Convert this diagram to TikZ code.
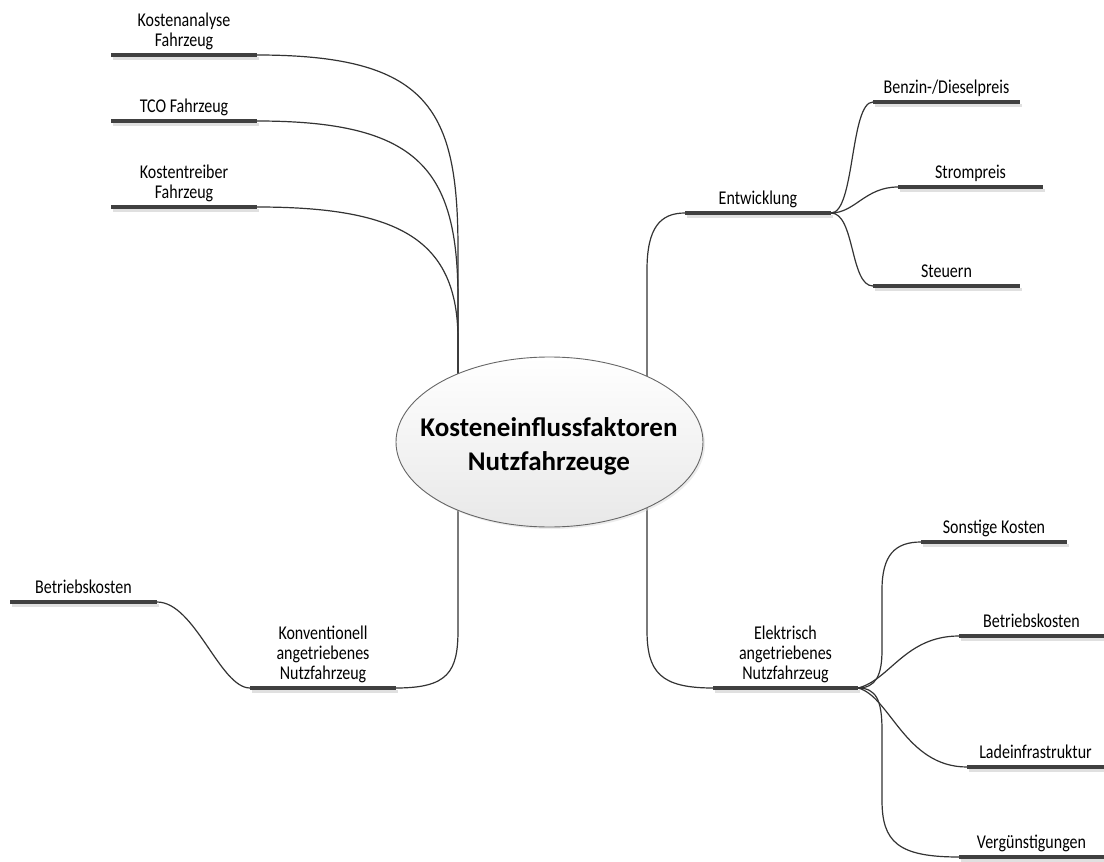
\documentclass[tikz,border=0pt]{standalone}
\usepackage{fontspec}
\usepackage{graphicx}
\setmainfont{Carlito}
\usetikzlibrary{shadows,shapes.geometric}

\tikzset{
  bar/.style={line width=4pt, draw=black!75},
  barshadow/.style={line width=3pt, draw=black!12},
  link/.style={line width=1.2pt, draw=black!80},
  topictext/.style={font=\fontsize{16}{20}\selectfont, align=center, inner sep=0pt,
                    anchor=south, text depth=4pt},
  hub/.style={ellipse, minimum width=307pt, minimum height=170pt, inner sep=0pt,
              draw=black!60, line width=0.9pt,
              top color=white, bottom color=black!9,
              drop shadow={shadow xshift=2pt, shadow yshift=-2pt, fill=black!15}},
  hubtext/.style={font=\fontsize{27}{34}\selectfont\bfseries, align=center, inner sep=0pt}
}

% vertically stretched label line
\newcommand{\tl}[1]{\scalebox{1}[1.22]{#1}}

% topic: name, left x, right x, bar y, label
\newcommand{\mmtopic}[5]{%
  \draw[barshadow] (#2+1.5,#4+3) -- (#3+1.5,#4+3);
  \coordinate (#1-w) at (#2,#4);
  \coordinate (#1-e) at (#3,#4);
  \node[topictext] (#1) at ({(#2+#3)/2},#4-4) {#5};
}

\begin{document}
\begin{tikzpicture}[x=1pt,y=-1pt]
\useasboundingbox (0,0) rectangle (1104,862);

% attachment points inside the central ellipse
\coordinate (hubTL) at (458,420);
\coordinate (hubTR) at (647,420);
\coordinate (hubBL) at (458,460);
\coordinate (hubBR) at (647,460);

% topics
\mmtopic{ka}{111}{257}{55}{\tl{Kostenanalyse}\\\tl{Fahrzeug}}
\mmtopic{tco}{111}{257}{121}{\tl{TCO Fahrzeug}}
\mmtopic{kt}{111}{257}{207}{\tl{Kostentreiber}\\\tl{Fahrzeug}}
\mmtopic{ent}{685}{831}{213}{\tl{Entwicklung}}
\mmtopic{bd}{873}{1020}{102}{\tl{Benzin-/Dieselpreis}}
\mmtopic{sp}{898}{1043}{187}{\tl{Strompreis}}
\mmtopic{st}{873}{1020}{286}{\tl{Steuern}}
\mmtopic{bkl}{10}{157}{602}{\tl{Betriebskosten}}
\mmtopic{kon}{250}{396}{688}{\tl{Konventionell}\\\tl{angetriebenes}\\\tl{Nutzfahrzeug}}
\mmtopic{ele}{713}{858}{688}{\tl{Elektrisch}\\\tl{angetriebenes}\\\tl{Nutzfahrzeug}}
\mmtopic{sk}{921}{1067}{542}{\tl{Sonstige Kosten}}
\mmtopic{bkr}{959}{1104}{636}{\tl{Betriebskosten}}
\mmtopic{lad}{967}{1104}{767}{\tl{Ladeinfrastruktur}}
\mmtopic{ver}{959}{1104}{857}{\tl{Vergünstigungen}}

% connectors
\draw[link] (ka-e) .. controls (430,55) and (458,110) .. (458,250) -- (hubTL);
\draw[link] (tco-e) .. controls (420,121) and (458,170) .. (458,300) -- (hubTL);
\draw[link] (kt-e) .. controls (400,207) and (458,240) .. (458,340) -- (hubTL);

\draw[link] (hubTR) -- (647,270) .. controls (647,228) and (660,213) .. (ent-w);
\draw[link] (ent-e) .. controls (855,213) and (850,102) .. (bd-w);
\draw[link] (ent-e) .. controls (855,213) and (865,187) .. (sp-w);
\draw[link] (ent-e) .. controls (855,213) and (850,286) .. (st-w);

\draw[link] (hubBL) -- (458,630) .. controls (458,672) and (448,688) .. (kon-e);
\draw[link] (bkl-e) .. controls (195,602) and (220,688) .. (kon-w);

\draw[link] (hubBR) -- (647,630) .. controls (647,672) and (660,688) .. (ele-w);
\draw[link] (ele-e) .. controls (876,688) and (882,675) .. (882,650) -- (882,590)
            .. controls (882,555) and (895,542) .. (sk-w);
\draw[link] (ele-e) .. controls (890,680) and (905,636) .. (bkr-w);
\draw[link] (ele-e) .. controls (890,696) and (905,767) .. (lad-w);
\draw[link] (ele-e) .. controls (876,688) and (882,700) .. (882,730) -- (882,800)
            .. controls (882,842) and (898,857) .. (ver-w);

% bars over the connector ends
\foreach \t in {ka,tco,kt,ent,bd,sp,st,bkl,kon,ele,sk,bkr,lad,ver}
  \draw[bar] (\t-w) -- (\t-e);

% central topic
\node[hub] (center) at (549.5,442) {};
\node[hubtext] (title) at (549,446) {Kosteneinflussfaktoren\\Nutzfahrzeuge};
\end{tikzpicture}
\end{document}
